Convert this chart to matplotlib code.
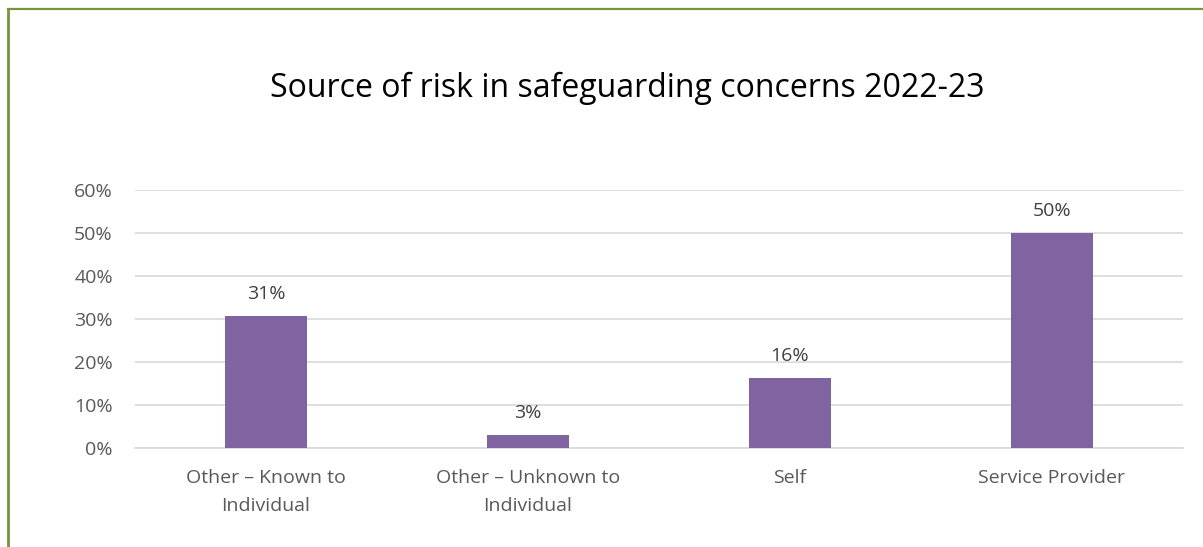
import numpy as np
import matplotlib.pyplot as plt
from matplotlib.lines import Line2D

plt.rcParams['font.family'] = ['Open Sans', 'DejaVu Sans']

categories = ['Other \u2013 Known to\nIndividual', 'Other \u2013 Unknown to\nIndividual',
              'Self', 'Service Provider']
shares = [0.307, 0.030, 0.163, 0.500]
labels = ['31%', '3%', '16%', '50%']
yticks = [0, 0.1, 0.2, 0.3, 0.4, 0.5, 0.6]

W, H = 1203, 547
fig = plt.figure(figsize=(W / 100, H / 100), dpi=100)
ax = fig.add_axes([135 / W, 1 - 448 / H, 1048 / W, 258 / H])

x = np.arange(len(categories))
ax.bar(x, shares, width=0.31, color='#8064A2', zorder=3)
for xi, v, lab in zip(x, shares, labels):
    ax.text(xi, v + 0.03, lab, ha='center', va='bottom', fontsize=14, color='#404040')

ax.set_xlim(-0.5, len(categories) - 0.5)
ax.set_ylim(0, 0.6)
ax.set_yticks(yticks)
ax.set_yticklabels([f'{int(round(t * 100))}%' for t in yticks])
ax.set_xticks(x)
ax.set_xticklabels(categories, linespacing=1.75)
ax.tick_params(axis='both', length=0, labelsize=14, labelcolor='#595959')
ax.tick_params(axis='y', pad=16)
ax.tick_params(axis='x', pad=15)
ax.grid(axis='y', color='#D9D9D9', linewidth=1.2, zorder=0)
for s in ['top', 'right', 'left']:
    ax.spines[s].set_visible(False)
ax.spines['bottom'].set_color('#D9D9D9')
ax.spines['bottom'].set_linewidth(1.2)

fig.text(627 / W, 1 - 88 / H, 'Source of risk in safeguarding concerns 2022-23',
         ha='center', va='center', fontsize=23, color='#000000')

# outer border (top and left only visible)
fig.add_artist(Line2D([8 / W, 1], [1 - 9 / H, 1 - 9 / H], color='#77933C', lw=1.6,
                      transform=fig.transFigure))
fig.add_artist(Line2D([8 / W, 8 / W], [0, 1 - 9 / H], color='#77933C', lw=2.0,
                      transform=fig.transFigure))

fig.savefig('out.png', dpi=100)
